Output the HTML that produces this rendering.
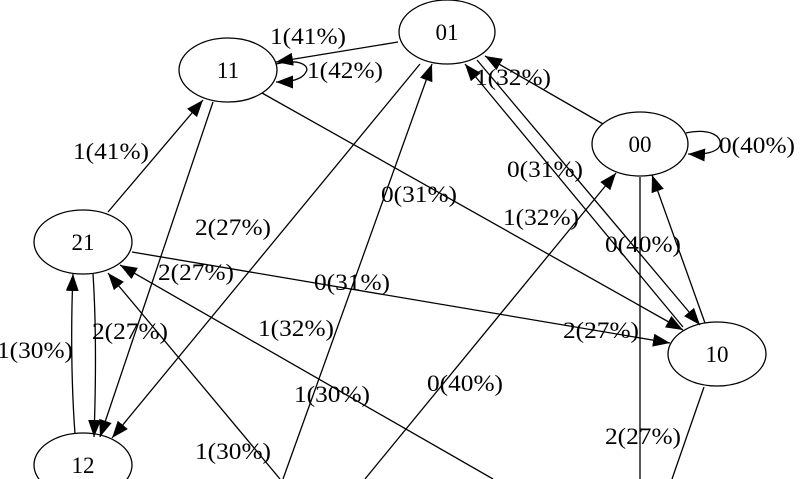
<!DOCTYPE html>
<html><head><style>html,body{margin:0;padding:0;background:#fff}svg{display:block}text{font-family:"Liberation Serif",serif;font-size:23px;fill:#000}</style></head>
<body>
<svg width="800" height="479" viewBox="0 0 800 479" xmlns="http://www.w3.org/2000/svg">
<defs>
<marker id="b" viewBox="0 0 17 13" refX="17" refY="6.5" markerWidth="17" markerHeight="13" markerUnits="userSpaceOnUse" orient="auto"><path d="M0,0 L17,6.5 L0,13 z" fill="#000"/></marker></defs>
<g fill="none" stroke="#000" stroke-width="1.3">
<ellipse cx="447" cy="32" rx="48" ry="32"/>
<ellipse cx="228" cy="70" rx="49" ry="32"/>
<ellipse cx="640" cy="144" rx="48" ry="32"/>
<ellipse cx="83" cy="242" rx="49" ry="32"/>
<ellipse cx="717" cy="354" rx="49" ry="32"/>
<ellipse cx="83" cy="465" rx="49" ry="32"/>
<line x1="398" y1="42" x2="276" y2="62" marker-end="url(#b)"/>
<path d="M276,64 C300,58 310,66 306,72 C302,80 290,82 276,82" marker-end="url(#b)"/>
<path d="M686,133 C710,128 722,136 720,145 C718,152 705,155 688,154" marker-end="url(#b)"/>
<line x1="603" y1="124" x2="485" y2="56" marker-end="url(#b)"/>
<line x1="477" y1="60" x2="700" y2="325" marker-end="url(#b)"/>
<line x1="683" y1="327" x2="465" y2="64" marker-end="url(#b)"/>
<line x1="705" y1="323" x2="652" y2="175" marker-end="url(#b)"/>
<line x1="262" y1="93" x2="683" y2="330" marker-end="url(#b)"/>
<line x1="132" y1="252" x2="670" y2="343" marker-end="url(#b)"/>
<line x1="640" y1="177" x2="640" y2="479"/>
<line x1="704" y1="387" x2="672" y2="479"/>
<line x1="365" y1="479" x2="616" y2="173" marker-end="url(#b)"/>
<line x1="108" y1="212" x2="203" y2="100" marker-end="url(#b)"/>
<line x1="213" y1="102" x2="100" y2="437" marker-end="url(#b)"/>
<line x1="420" y1="64" x2="112" y2="438" marker-end="url(#b)"/>
<path d="M75,434 C71,380 71,320 73,274" marker-end="url(#b)"/>
<path d="M93,274 C96,320 96,380 94,437" marker-end="url(#b)"/>
<line x1="283" y1="479" x2="432" y2="64" marker-end="url(#b)"/>
<line x1="280" y1="479" x2="108" y2="273" marker-end="url(#b)"/>
<line x1="493" y1="479" x2="120" y2="265" marker-end="url(#b)"/>
</g>
<g text-anchor="middle">
<text x="447" y="40">01</text><text x="228" y="78">11</text><text x="640" y="152">00</text>
<text x="83" y="250">21</text><text x="717" y="362">10</text><text x="83" y="473">12</text>
</g>
<g text-anchor="middle" lengthAdjust="spacingAndGlyphs">
<text x="308" y="44" textLength="76" lengthAdjust="spacingAndGlyphs">1(41%)</text>
<text x="345" y="78" textLength="76" lengthAdjust="spacingAndGlyphs">1(42%)</text>
<text x="513" y="85" textLength="76" lengthAdjust="spacingAndGlyphs">1(32%)</text>
<text x="757" y="153" textLength="76" lengthAdjust="spacingAndGlyphs">0(40%)</text>
<text x="111" y="159" textLength="76" lengthAdjust="spacingAndGlyphs">1(41%)</text>
<text x="419" y="202" textLength="76" lengthAdjust="spacingAndGlyphs">0(31%)</text>
<text x="545" y="177" textLength="76" lengthAdjust="spacingAndGlyphs">0(31%)</text>
<text x="541" y="225" textLength="76" lengthAdjust="spacingAndGlyphs">1(32%)</text>
<text x="643" y="252" textLength="76" lengthAdjust="spacingAndGlyphs">0(40%)</text>
<text x="233" y="235" textLength="76" lengthAdjust="spacingAndGlyphs">2(27%)</text>
<text x="196" y="280" textLength="76" lengthAdjust="spacingAndGlyphs">2(27%)</text>
<text x="352" y="290" textLength="76" lengthAdjust="spacingAndGlyphs">0(31%)</text>
<text x="601" y="338" textLength="76" lengthAdjust="spacingAndGlyphs">2(27%)</text>
<text x="130" y="339" textLength="76" lengthAdjust="spacingAndGlyphs">2(27%)</text>
<text x="35" y="358" textLength="76" lengthAdjust="spacingAndGlyphs">1(30%)</text>
<text x="296" y="336" textLength="76" lengthAdjust="spacingAndGlyphs">1(32%)</text>
<text x="332" y="402" textLength="76" lengthAdjust="spacingAndGlyphs">1(30%)</text>
<text x="465" y="391" textLength="76" lengthAdjust="spacingAndGlyphs">0(40%)</text>
<text x="233" y="459" textLength="76" lengthAdjust="spacingAndGlyphs">1(30%)</text>
<text x="643" y="444" textLength="76" lengthAdjust="spacingAndGlyphs">2(27%)</text>
</g>
</svg>
</body></html>
